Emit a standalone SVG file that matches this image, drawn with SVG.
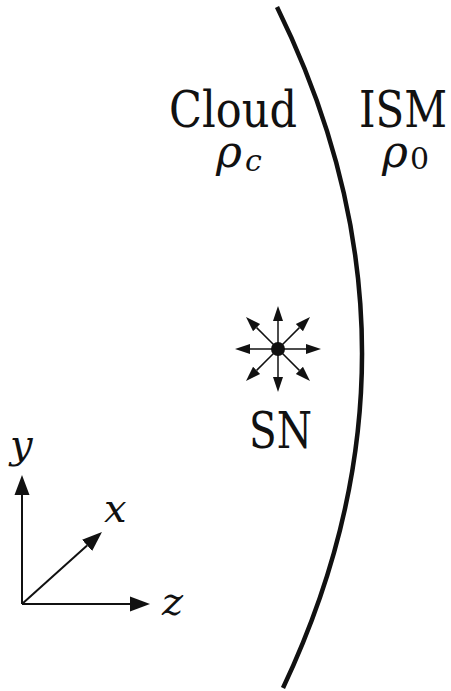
<svg xmlns="http://www.w3.org/2000/svg" width="451" height="691" viewBox="0 0 451 691">
<style>
  text { font-family: 'DejaVu Serif', serif; fill: #111; }
  .it { font-style: italic; }
  .star { stroke: #111; stroke-width: 1.5; fill: none; }
  .axis { stroke: #111; stroke-width: 2; fill: none; }
</style>
<defs>
  <marker id="sArrow" markerUnits="userSpaceOnUse" markerWidth="16" markerHeight="12" viewBox="0 -6 16 12" refX="0" refY="0" orient="auto">
    <path d="M0,-5 L15,0 L0,5 z" fill="#111"/>
  </marker>
  <marker id="aArrow" markerUnits="userSpaceOnUse" markerWidth="21" markerHeight="16" viewBox="0 -8 21 16" refX="0" refY="0" orient="auto">
    <path d="M0,-7.5 L20,0 L0,7.5 z" fill="#111"/>
  </marker>
</defs>
<rect width="451" height="691" fill="#fff"/>

<g id="front">
  <path d="M277,7 Q444,347 283,688" stroke="#111" stroke-width="4.5" fill="none"/>
</g>

<g id="cloud">
  <text x="169" y="127" font-size="50" textLength="128" lengthAdjust="spacingAndGlyphs">Cloud</text>
  <text class="it" x="216" y="167" font-size="44">ρ</text>
  <text class="it" x="245" y="171" font-size="30">c</text>
</g>

<g id="ism">
  <text x="359" y="127" font-size="50" textLength="88" lengthAdjust="spacingAndGlyphs">ISM</text>
  <text class="it" x="382" y="167" font-size="44">ρ</text>
  <text x="410" y="169" font-size="30">0</text>
</g>

<g id="sn">
  <g id="connectors-star">
    <path class="star" d="M278,349 L306,349" marker-end="url(#sArrow)"/>
    <path class="star" d="M278,349 L250,349" marker-end="url(#sArrow)"/>
    <path class="star" d="M278,349 L278,321" marker-end="url(#sArrow)"/>
    <path class="star" d="M278,349 L278,377" marker-end="url(#sArrow)"/>
    <path class="star" d="M278,349 L299.4,327.6" marker-end="url(#sArrow)"/>
    <path class="star" d="M278,349 L256.6,327.6" marker-end="url(#sArrow)"/>
    <path class="star" d="M278,349 L299.4,370.4" marker-end="url(#sArrow)"/>
    <path class="star" d="M278,349 L256.6,370.4" marker-end="url(#sArrow)"/>
  </g>
  <circle cx="278" cy="349" r="7" fill="#111"/>
  <text x="249" y="448" font-size="50" textLength="63" lengthAdjust="spacingAndGlyphs">SN</text>
</g>

<g id="axes">
  <path class="axis" d="M22,604 L22,495" marker-end="url(#aArrow)"/>
  <path class="axis" d="M22,604 L130,604" marker-end="url(#aArrow)"/>
  <path class="axis" d="M22,604 L87.1,545.4" marker-end="url(#aArrow)"/>
  <text class="it" x="10" y="458" font-size="40">y</text>
  <text class="it" x="104" y="522" font-size="40">x</text>
  <text class="it" x="162" y="615" font-size="40">z</text>
</g>
</svg>
